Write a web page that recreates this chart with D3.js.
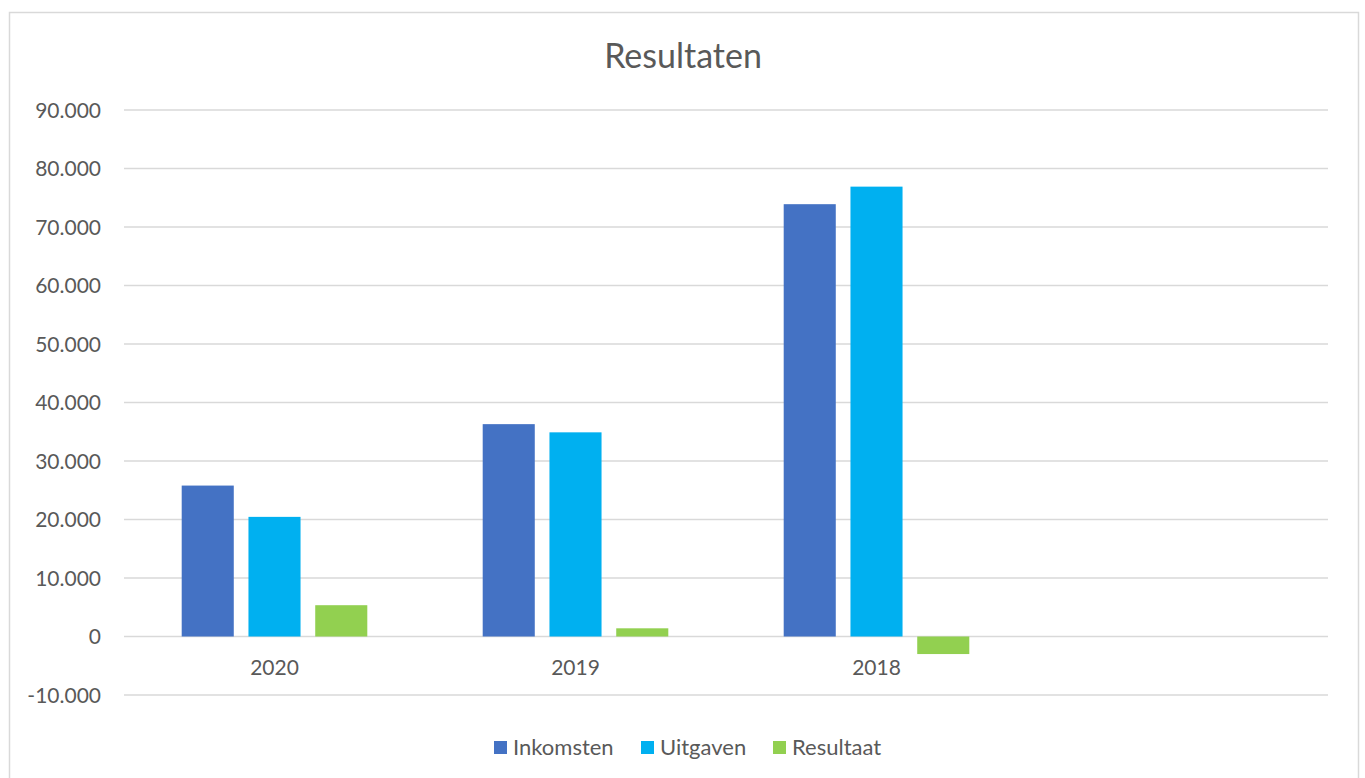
<!DOCTYPE html>
<html>
<head>
<meta charset="utf-8">
<script src="https://cdn.jsdelivr.net/npm/d3@7"></script>
<style>
  body { margin: 0; background: #fff; }
  svg { display: block; font-family: Lato, "Open Sans", sans-serif; }
</style>
</head>
<body>
<svg id="chart" width="1365" height="778"></svg>
<script>
// chart data
const categories = ["2020", "2019", "2018", ""];
const series = ["Inkomsten", "Uitgaven", "Resultaat"];
const inkomsten = [25800, 36300, 73900, null];
const uitgaven = [20450, 34900, 76900, null];
const resultaat = [5350, 1400, -3000, null];
const yTicks = [-10000, 0, 10000, 20000, 30000, 40000, 50000, 60000, 70000, 80000, 90000];

const colors = {Inkomsten: "#4472c4", Uitgaven: "#00b0f0", Resultaat: "#92d050"};
const values = {Inkomsten: inkomsten, Uitgaven: uitgaven, Resultaat: resultaat};

const svg = d3.select("#chart");
const plot = {left: 124, right: 1328, top: 110, bottom: 695};

// outer frame
svg.append("rect")
    .attr("x", 9.5).attr("y", 12.5)
    .attr("width", 1349).attr("height", 790)
    .attr("fill", "none")
    .attr("stroke", "#d9d9d9")
    .attr("stroke-width", 1.5);

svg.append("text")
    .attr("x", 683).attr("y", 68)
    .attr("text-anchor", "middle")
    .attr("fill", "#595959")
    .style("font-size", "34px")
    .text("Resultaten");

var y = d3.scaleLinear()
    .domain([-10000, 90000])
    .range([plot.bottom, plot.top]);

var x0 = d3.scaleBand()
    .domain(categories.map((c, i) => i))
    .range([plot.left, plot.right])
    .padding(0);

var x1 = d3.scaleBand()
    .domain(series)
    .range([57.7, x0.bandwidth() - 57.7])
    .paddingInner(0.22)
    .paddingOuter(0);

var nl = d3.formatLocale({decimal: ",", thousands: ".", grouping: [3], currency: ["€", ""], minus: "-"});
var fmt = nl.format(",.0f");

// gridlines
svg.append("g")
    .selectAll("line")
    .data(yTicks)
    .enter()
    .append("line")
    .attr("x1", plot.left)
    .attr("x2", plot.right)
    .attr("y1", d => y(d))
    .attr("y2", d => y(d))
    .attr("stroke", "#d9d9d9")
    .attr("stroke-width", 1.5);

// y labels
svg.append("g")
    .selectAll("text")
    .data(yTicks)
    .enter()
    .append("text")
    .attr("x", 101)
    .attr("y", d => y(d) + 7.5)
    .attr("text-anchor", "end")
    .attr("fill", "#595959")
    .style("font-size", "21px")
    .text(d => fmt(d));

// bars
series.forEach(function (s) {
    svg.append("g")
        .selectAll("rect")
        .data(values[s].map((v, i) => ({i: i, v: v})).filter(d => d.v != null))
        .enter()
        .append("rect")
        .attr("x", d => x0(d.i) + x1(s))
        .attr("y", d => y(Math.max(0, d.v)))
        .attr("width", x1.bandwidth())
        .attr("height", d => Math.abs(y(d.v) - y(0)))
        .attr("fill", colors[s]);
});

// category labels
svg.append("g")
    .selectAll("text")
    .data(categories)
    .enter()
    .append("text")
    .attr("x", (d, i) => x0(i) + x0.bandwidth() / 2)
    .attr("y", 675)
    .attr("text-anchor", "middle")
    .attr("fill", "#595959")
    .style("font-size", "21px")
    .text(d => d);

// legend
const legendX = [494, 641, 773];
const lg = svg.append("g");
series.forEach(function (s, i) {
    lg.append("rect")
        .attr("x", legendX[i]).attr("y", 741)
        .attr("width", 13).attr("height", 13)
        .attr("fill", colors[s]);
    lg.append("text")
        .attr("x", legendX[i] + 19).attr("y", 755)
        .attr("fill", "#595959")
        .style("font-size", "22px")
        .text(s);
});
</script>
</body>
</html>
